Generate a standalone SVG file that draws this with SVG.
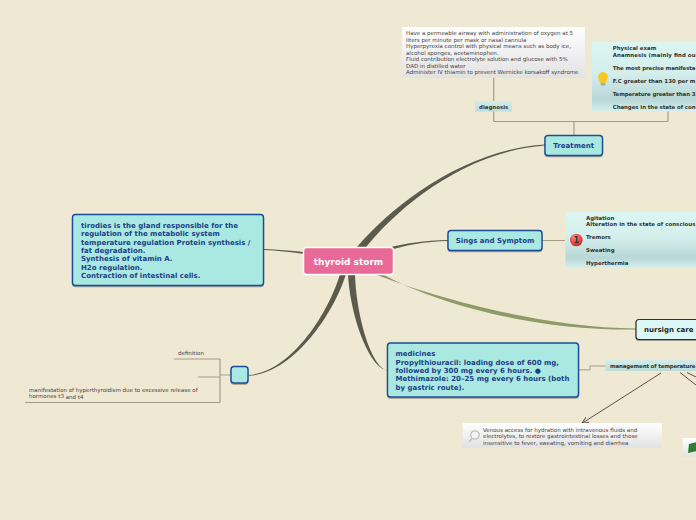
<svg xmlns="http://www.w3.org/2000/svg" width="696" height="520" viewBox="0 0 696 520">
<defs>
<linearGradient id="g1" x1="0" y1="0" x2="0" y2="1"><stop offset="0" stop-color="#ffffff"/><stop offset="1" stop-color="#e2e2e2"/></linearGradient>
<linearGradient id="g2" x1="0" y1="0" x2="0" y2="1"><stop offset="0" stop-color="#dcf6f4"/><stop offset="0.45" stop-color="#d4eeec"/><stop offset="0.82" stop-color="#b9d7d7"/><stop offset="1" stop-color="#d4f0ee"/></linearGradient>
<linearGradient id="g3" x1="0" y1="0" x2="0" y2="1"><stop offset="0" stop-color="#d2ecea"/><stop offset="1" stop-color="#bcdcdc"/></linearGradient>
<radialGradient id="red" cx="0.4" cy="0.3" r="0.8"><stop offset="0" stop-color="#f88"/><stop offset="1" stop-color="#d01810"/></radialGradient>
<filter id="sh" x="-5%" y="-5%" width="110%" height="115%"><feDropShadow dx="0" dy="1" stdDeviation="0.7" flood-color="#000" flood-opacity="0.35"/></filter>
<marker id="arr" markerUnits="userSpaceOnUse" markerWidth="9" markerHeight="9" refX="7" refY="3.500" orient="auto"><path d="M0,0.500 L7,3.500 L0,6.500" fill="none" stroke="#5a5646" stroke-width="1"/></marker>
</defs>
<style>
text{font-family:"DejaVu Sans",Verdana,sans-serif;}
.n{fill:#aae8e2;stroke:#1c4c96;stroke-width:1.400;filter:url(#sh);}
.b{font-weight:bold;fill:#1b4088;font-size:7px;}
.s{font-size:5.450px;font-weight:bold;fill:#333;}
.g{font-size:5.500px;fill:#444;}
.tl{fill:none;stroke:#a39d88;stroke-width:1.200;}
</style>
<rect width="696" height="520" fill="#efe8d2"/>
<g id="connectors" fill="none">
<path d="M357,247 C394,204 465,149.500 545,144.500 L545,145.500 C466,151 397,207 363,251 Z" fill="#5c5a4c"/>
<path d="M386,248.500 C405,243 425,240.500 448,240 L448,241 C425,241.500 405,245 388,251 Z" fill="#5c5a4c"/>
<path d="M264,249 C278,249.500 290,250.500 304,252 L304,254 C290,252 278,250.500 264,250 Z" fill="#5c5a4c"/>
<path d="M372,273 C435,298 540,327 636,328.500 L636,329.500 C545,331 445,308 384,275 Z" fill="#8e9a68"/>
<path d="M348,274 C350,315 369,369 388,370.500 L388,371 C370,367 356,312 355,274 Z" fill="#5c5a4c"/>
<path d="M340,274 C328,315 290,372 249,375 L249,375.800 C292,373.500 333,316 346,274 Z" fill="#5c5a4c"/>
<path class="tl" d="M574,135 V121.500 M493.700,121.500 H668 M493.700,121.500 V77 M668,121.500 V111"/>
<path class="tl" d="M515,240.500 H565" stroke-width="1"/>
<path d="M579,369.700 H590 V366 H606" stroke="#bdb79e" stroke-width="1.500"/>
<path d="M661,373 L581.700,423.500" stroke="#5a5646" stroke-width="1" marker-end="url(#arr)"/>
<path d="M680,372.500 L696,385 M687,372.500 L696,377" stroke="#5a5646" stroke-width="1"/>
<path class="tl" d="M231,375 H220 M220,359 V402.500 M174,359 H220 M198,377 H220 M25,402.500 H220"/>
</g>
<g id="n-root"><rect x="303.500" y="247.500" width="90" height="27" rx="3" fill="#ea6a97" stroke="#fff" stroke-width="1.500"/><text x="348.500" y="265" text-anchor="middle" font-size="9" font-weight="bold" fill="#fff">thyroid storm</text></g>
<g id="n-treatment"><rect class="n" x="545" y="135.500" width="57.500" height="20" rx="3"/><text class="b" x="573.700" y="148" text-anchor="middle">Treatment</text></g>
<g id="n-signs"><rect class="n" x="448" y="230.500" width="94" height="20" rx="3"/><text class="b" x="495" y="243" text-anchor="middle">Sings and Symptom</text></g>
<g id="n-nursing"><rect x="636" y="319.500" width="70" height="20" rx="3" fill="#dcf8f6" stroke="#333" stroke-width="1.200" filter="url(#sh)"/><text x="644" y="332" font-size="7" font-weight="bold" fill="#222">nursign care</text></g>
<g id="n-tirodies"><rect class="n" x="72.500" y="214.500" width="191" height="71" rx="3"/>
<g class="b"><text x="81" y="227.500">tirodies is the gland responsible for the</text><text x="81" y="236">regulation of the metabolic system</text><text x="81" y="244.500">temperature regulation Protein synthesis /</text><text x="81" y="253">fat degradation.</text><text x="81" y="261">Synthesis of vitamin A.</text><text x="81" y="269.500">H2o regulation.</text><text x="81" y="278">Contraction of intestinal cells.</text></g></g>
<g id="n-medicines"><rect class="n" x="387.500" y="343" width="191" height="54" rx="3"/>
<g class="b"><text x="395.500" y="356">medicines</text><text x="395.500" y="364.500">Propylthiouracil: loading dose of 600 mg,</text><text x="395.500" y="373">followed by 300 mg every 6 hours. ●</text><text x="395.500" y="381">Methimazole: 20–25 mg every 6 hours (both</text><text x="395.500" y="389.500">by gastric route).</text></g></g>
<g id="n-empty"><rect class="n" x="231" y="366.500" width="17" height="16.500" rx="3"/></g>
<g id="n-care"><rect x="402" y="27" width="183" height="51" fill="url(#g1)"/>
<g class="g"><text x="406" y="35">Have a permeable airway with administration of oxygen at 5</text><text x="406" y="41.700">liters per minute per mask or nasal cannula</text><text x="406" y="48">Hyperpyrexia control with physical means such as body ice,</text><text x="406" y="54.700">alcohol sponges, acetaminophen.</text><text x="406" y="61">Fluid contribution electrolyte solution and glucose with 5%</text><text x="406" y="67.700">DAD in distilled water</text><text x="406" y="74">Administer IV thiamin to prevent Wernicke korsakoff syndrome</text></g></g>
<g id="n-diagnosis"><rect x="475" y="101" width="37" height="10.500" fill="url(#g3)"/><text class="s" x="479" y="108.700">diagnosis</text></g>
<g id="n-exam"><rect x="592" y="42" width="110" height="69.500" rx="2" fill="url(#g2)"/>
<path d="M603,72 a5,5 0 0 1 4,8 l-1.500,3 h-5 l-1.500,-3 a5,5 0 0 1 4,-8 z" fill="#f8c820"/><rect x="600.800" y="83" width="4.500" height="2.500" fill="#aaa"/>
<g class="s"><text x="612.700" y="50">Physical exam</text><text x="612.700" y="57" textLength="82.800">Anamnesis (mainly find ou</text><text x="612.700" y="70" textLength="82.800">The most precise manifesta</text><text x="612.700" y="83" textLength="82.800">F.C greater than 130 per m</text><text x="612.700" y="96" textLength="82.800">Temperature greater than 3</text><text x="612.700" y="109" textLength="82.800">Changes in the state of con</text></g></g>
<g id="n-symptoms"><rect x="565.500" y="212" width="140" height="56" rx="2" fill="url(#g2)"/>
<circle cx="576.300" cy="240" r="6.300" fill="url(#red)"/><text x="576.300" y="243" text-anchor="middle" font-size="8" font-weight="bold" fill="#333">1</text>
<g class="s"><text x="586" y="220">Agitation</text><text x="586" y="226" textLength="109.500">Alteration in the state of conscious</text><text x="586" y="239">Tremors</text><text x="586" y="252">Sweating</text><text x="586" y="265">Hyperthermia</text></g></g>
<g id="n-mgmt"><rect x="605.700" y="360" width="95" height="11" fill="url(#g3)"/><text class="s" x="610" y="368" textLength="85.500">management of temperature</text></g>
<g id="n-venous"><rect x="462.700" y="423" width="199.300" height="24.700" fill="url(#g1)"/>
<circle cx="475" cy="435" r="4.200" fill="#f4f4f4" stroke="#c0c0c0" stroke-width="1.300"/><path d="M472,438.500 L469,442" stroke="#c0c0c0" stroke-width="1.800"/>
<g class="g"><text x="483" y="431.700">Venous access for hydration with intravenous fluids and</text><text x="483" y="438.200">electrolytes, to restore gastrointestinal losses and those</text><text x="483" y="445">insensitive to fever, sweating, vomiting and diarrhea</text></g></g>
<g id="n-book"><rect x="682.700" y="438" width="20" height="18.700" fill="url(#g1)"/><path d="M689,444 L697,442 V451 L688,453 Z" fill="#2e7d32"/></g>
<g id="n-def"><text class="g" x="178" y="354.700">definition</text></g>
<g id="n-manif"><text class="g" x="29" y="391.700">manifestation of hyperthyroidism due to excessive release of</text><text class="g" x="29" y="397.700">hormones t3</text><text class="g" x="65.700" y="399">and t4</text></g>
</svg>
